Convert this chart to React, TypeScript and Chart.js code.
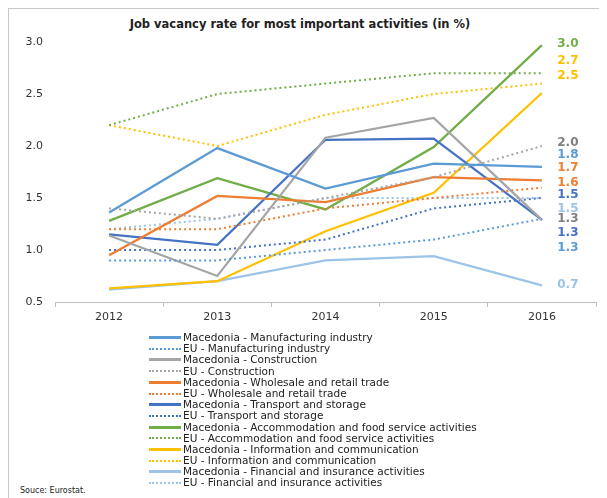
import React, { useEffect, useRef } from "react";
import { Chart, registerables } from "chart.js";

Chart.register(...registerables);

const years = ["2012", "2013", "2014", "2015", "2016"];

const macManufacturing = [1.36, 1.98, 1.59, 1.83, 1.8];
const euManufacturing = [0.9, 0.9, 1.0, 1.1, 1.3];
const macConstruction = [1.14, 0.75, 2.08, 2.27, 1.29];
const euConstruction = [1.4, 1.3, 1.5, 1.7, 2.0];
const macWholesale = [0.95, 1.52, 1.46, 1.7, 1.67];
const euWholesale = [1.2, 1.2, 1.4, 1.5, 1.6];
const macTransport = [1.15, 1.05, 2.06, 2.07, 1.29];
const euTransport = [1.0, 1.0, 1.1, 1.4, 1.5];
const macAccommodation = [1.28, 1.69, 1.39, 1.99, 2.97];
const euAccommodation = [2.2, 2.5, 2.6, 2.7, 2.7];
const macICT = [0.63, 0.7, 1.18, 1.55, 2.51];
const euICT = [2.2, 2.0, 2.3, 2.5, 2.6];
const macFinancial = [0.62, 0.7, 0.9, 0.94, 0.66];
const euFinancial = [1.2, 1.3, 1.5, 1.5, 1.5];

const yTicks = [0.5, 1.0, 1.5, 2.0, 2.5, 3.0];

// end-of-line value labels (text, colour, display position in axis units)
const endLabelTexts = ["3.0", "2.7", "2.5", "2.0", "1.8", "1.7", "1.6", "1.5", "1.5", "1.3", "1.3", "1.3", "0.7"];
const endLabelColors = ["#70AD47", "#FFC000", "#FFC000", "#7F7F7F", "#5B9BD5", "#ED7D31", "#ED7D31", "#4472C4", "#9DC3E6", "#7F7F7F", "#4472C4", "#5B9BD5", "#9DC3E6"];
const endLabelAt = [2.98, 2.82, 2.67, 2.03, 1.91, 1.79, 1.65, 1.53, 1.4, 1.3, 1.16, 1.02, 0.66];

const seriesDefs = [
  { label: "Macedonia - Manufacturing industry", data: macManufacturing, color: "#5B9BD5", dotted: false },
  { label: "EU - Manufacturing industry", data: euManufacturing, color: "#5B9BD5", dotted: true },
  { label: "Macedonia - Construction", data: macConstruction, color: "#A5A5A5", dotted: false },
  { label: "EU - Construction", data: euConstruction, color: "#A5A5A5", dotted: true },
  { label: "Macedonia - Wholesale and retail trade", data: macWholesale, color: "#ED7D31", dotted: false },
  { label: "EU - Wholesale and retail trade", data: euWholesale, color: "#ED7D31", dotted: true },
  { label: "Macedonia - Transport and storage", data: macTransport, color: "#4472C4", dotted: false },
  { label: "EU - Transport and storage", data: euTransport, color: "#4472C4", dotted: true },
  { label: "Macedonia - Accommodation and food service activities", data: macAccommodation, color: "#70AD47", dotted: false },
  { label: "EU - Accommodation and food service activities", data: euAccommodation, color: "#70AD47", dotted: true },
  { label: "Macedonia - Information and communication", data: macICT, color: "#FFC000", dotted: false },
  { label: "EU - Information and communication", data: euICT, color: "#FFC000", dotted: true },
  { label: "Macedonia - Financial and insurance activities", data: macFinancial, color: "#9DC3E6", dotted: false },
  { label: "EU - Financial and insurance activities", data: euFinancial, color: "#9DC3E6", dotted: true },
];

const FONT = "'DejaVu Sans', Verdana, sans-serif";

const endLabelsPlugin = {
  id: "endLabels",
  afterDatasetsDraw(chart: any) {
    const { ctx, scales } = chart;
    const x = scales.x.getPixelForValue(years.length - 1) + 26;
    ctx.save();
    ctx.font = `bold 12px ${FONT}`;
    ctx.textAlign = "center";
    ctx.textBaseline = "middle";
    endLabelTexts.forEach((t, i) => {
      ctx.fillStyle = endLabelColors[i];
      ctx.fillText(t, x, scales.y.getPixelForValue(endLabelAt[i]));
    });
    ctx.restore();
  },
};

export default function App() {
  const ref = useRef<HTMLCanvasElement>(null);
  useEffect(() => {
    if (!ref.current) return;
    const chart = new Chart(ref.current, {
      type: "line",
      data: {
        labels: years,
        datasets: seriesDefs.map((s) => ({
          label: s.label,
          data: s.data,
          borderColor: s.color,
          backgroundColor: s.color,
          borderWidth: s.dotted ? 2 : 2.25,
          borderDash: s.dotted ? [2, 3] : [],
          borderCapStyle: "butt",
          pointRadius: 0,
          tension: 0,
          fill: false,
        })),
      },
      options: {
        animation: false,
        responsive: false,
        devicePixelRatio: 1,
        layout: { padding: { top: 33, right: 11, left: 0, bottom: 0 } },
        plugins: { legend: { display: false }, title: { display: false }, tooltip: { enabled: false } },
        scales: {
          x: {
            offset: true,
            grid: { display: true, offset: true, drawOnChartArea: false, drawTicks: true, tickLength: 5, color: "#BFBFBF" },
            border: { display: true, color: "#BFBFBF", width: 1 },
            ticks: { color: "#333", font: { family: FONT, size: 11 }, padding: 4 },
            afterFit: (s: any) => { s.height = 37; },
          },
          y: {
            min: 0.5,
            max: 3.0,
            afterBuildTicks: (s: any) => { s.ticks = yTicks.map((v) => ({ value: v })); },
            grid: { display: false },
            border: { display: false },
            ticks: { color: "#333", font: { family: FONT, size: 11 }, padding: 4, callback: (v: any) => Number(v).toFixed(1) },
            afterFit: (s: any) => { s.width = 46; },
          },
        },
      },
      plugins: [endLabelsPlugin],
    });
    return () => chart.destroy();
  }, []);

  return (
    <div
      style={{
        position: "relative",
        width: 700,
        height: 495,
        borderLeft: "1px solid #C8C8C8",
        borderTop: "1px solid #C8C8C8",
        fontFamily: FONT,
        color: "#222",
      }}
    >
      <div
        style={{
          position: "absolute",
          left: 0,
          top: 8,
          width: 582,
          textAlign: "center",
          fontWeight: "bold",
          fontSize: 11.5,
          lineHeight: "14px",
        }}
      >
        Job vacancy rate for most important activities (in %)
      </div>
      <canvas ref={ref} width={598} height={330} style={{ position: "absolute", left: 0, top: 0 }} />
      <div style={{ position: "absolute", left: 140, top: 323 }}>
        {seriesDefs.map((s) => (
          <div key={s.label} style={{ display: "flex", alignItems: "center", height: 11.2, fontSize: 10.5, lineHeight: "11.2px", whiteSpace: "nowrap" }}>
            <span
              style={{
                display: "inline-block",
                width: 32,
                height: 0,
                borderTop: s.dotted ? `2px dotted ${s.color}` : `3px solid ${s.color}`,
                marginRight: 2,
              }}
            />
            <span>{s.label}</span>
          </div>
        ))}
      </div>
      <div style={{ position: "absolute", left: 11, top: 477, fontSize: 8 }}>Souce: Eurostat.</div>
    </div>
  );
}
